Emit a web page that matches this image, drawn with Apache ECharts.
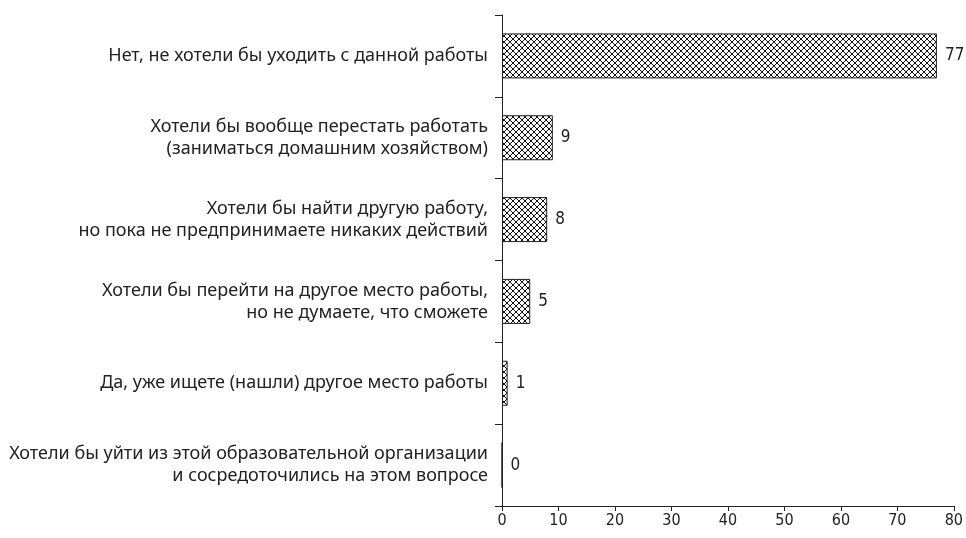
<!DOCTYPE html>
<html><head><meta charset="utf-8">
<script src="https://cdn.jsdelivr.net/npm/echarts@6/dist/echarts.min.js"></script>
<style>html,body{margin:0;padding:0;background:#fff}#c{width:966px;height:538px}</style>
</head><body><div id="c"></div>
<script>
const categories = [
  'Хотели бы уйти из этой образовательной организации\nи сосредоточились на этом вопросе',
  'Да, уже ищете (нашли) другое место работы',
  'Хотели бы перейти на другое место работы,\nно не думаете, что сможете',
  'Хотели бы найти другую работу,\nно пока не предпринимаете никаких действий',
  'Хотели бы вообще перестать работать\n(заниматься домашним хозяйством)',
  'Нет, не хотели бы уходить с данной работы'
];
const values = [0, 1, 5, 8, 9, 77];
const xTicks = [0, 10, 20, 30, 40, 50, 60, 70, 80];

const tile = document.createElement('canvas');
tile.width = 6; tile.height = 6;
const g = tile.getContext('2d');
g.fillStyle = '#fff'; g.fillRect(0,0,6,6);
g.strokeStyle = '#111'; g.lineWidth = 1;
g.beginPath();
g.moveTo(0,0); g.lineTo(6,6);
g.moveTo(6,0); g.lineTo(0,6);
g.stroke();

const narrow = "'Liberation Sans Narrow', 'DejaVu Sans Condensed', 'Liberation Sans', sans-serif";
const chart = echarts.init(document.getElementById('c'));
chart.setOption({
  animation: false,
  grid: {left: 502, right: 10, top: 15, bottom: 32},
  xAxis: {
    type: 'value', min: xTicks[0], max: xTicks[xTicks.length-1], interval: 10,
    splitLine: {show: false},
    axisLine: {show: true, lineStyle: {color: '#222', width: 1}},
    axisTick: {show: true, length: 5, lineStyle: {color: '#222'}},
    axisLabel: {color: '#222', fontSize: 16, fontFamily: narrow, margin: 7}
  },
  yAxis: {
    type: 'category', data: categories,
    axisLine: {show: true, lineStyle: {color: '#222', width: 1}},
    axisTick: {show: true, length: 7, lineStyle: {color: '#222'}},
    axisLabel: {color: '#222', fontSize: 18, fontFamily: 'Noto Sans', margin: 14, lineHeight: 22, align: 'right'}
  },
  series: [{
    type: 'bar', data: values, barWidth: '55%',
    itemStyle: {color: {image: tile, repeat: 'repeat'}, borderColor: '#222', borderWidth: 1},
    label: {show: true, position: 'right', distance: 8, color: '#222', fontSize: 17, fontFamily: narrow}
  }]
});
</script></body></html>
